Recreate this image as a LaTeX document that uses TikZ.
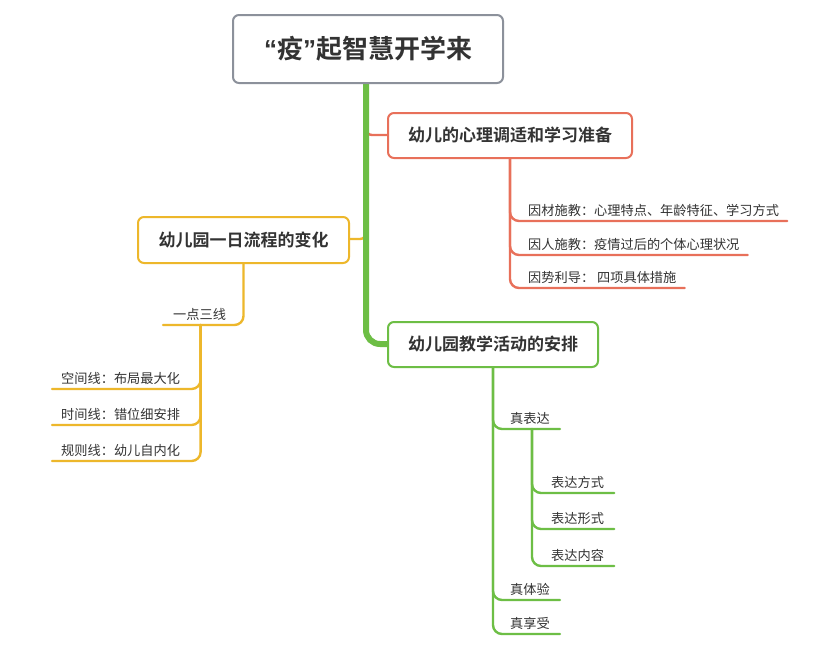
\documentclass[tikz,border=0pt]{standalone}
\usepackage{fontspec}
\setmainfont{Noto Sans CJK SC}[BoldFont={Noto Sans CJK SC Bold}]
\newfontfamily\latinq{Liberation Sans}
\definecolor{cred}{HTML}{E8705A}
\definecolor{cyel}{HTML}{EDB72B}
\definecolor{cgrn}{HTML}{6DBE45}
\definecolor{cgray}{HTML}{8C919B}
\definecolor{ctext}{HTML}{333333}
\begin{document}
\begin{tikzpicture}[x=1pt,y=-1pt,
  box/.style={draw, line width=2pt, rounded corners=6pt, fill=white, text=ctext, font=\bfseries\fontsize{17}{20}\selectfont, inner sep=0pt},
  leaf/.style={text=ctext, font=\fontsize{13.2}{15}\selectfont, inner xsep=0pt, inner ysep=4.5pt, anchor=south west},
  br/.style={line width=2.4pt, rounded corners=9pt, line cap=round}
]
\useasboundingbox[fill=white] (0,0) rectangle (828,648);

% connectors from root
\coordinate (tk) at (366,83);
\draw[br, cred, rounded corners=6pt] (tk) |- (388,135);
\draw[br, cyel, rounded corners=6pt] (tk) |- (349,239);
\draw[line width=6pt, cgrn, rounded corners=14pt] (tk) |- (388,344);

% boxes
\node[box, draw=cgray, minimum width=270pt, minimum height=68pt, font=\bfseries\fontsize{26}{30}\selectfont] (root) at (368,49) {{\latinq\bfseries “}疫{\latinq\bfseries ”}起智慧开学来};
\node[box, draw=cred, minimum width=244pt, minimum height=45pt] (red) at (510,135.5) {幼儿的心理调适和学习准备};
\node[box, draw=cyel, minimum width=211pt, minimum height=46pt] (yel) at (243.5,240) {幼儿园一日流程的变化};
\node[box, draw=cgrn, minimum width=210pt, minimum height=45pt] (grn) at (493,344.5) {幼儿园教学活动的安排};

% red leaves
\node[leaf] (r1) at (528,221) {因材施教：心理特点、年龄特征、学习方式};
\node[leaf] (r2) at (528,255) {因人施教：疫情过后的个体心理状况};
\node[leaf] (r3) at (528,288) {因势利导： 四项具体措施};
\foreach \n in {r1,r2,r3}
  \draw[br, cred] (red.south) |- ([xshift=8pt]\n.south east);

% yellow leaves
\node[leaf] (y0) at (173,325) {一点三线};
\draw[br, cyel] (yel.south) |- ([xshift=-10pt]y0.south west);
\node[leaf] (y1) at (61,389) {空间线：布局最大化};
\node[leaf] (y2) at (61,425) {时间线：错位细安排};
\node[leaf] (y3) at (61,461) {规则线：幼儿自内化};
\foreach \n in {y1,y2,y3}
  \draw[br, cyel] ([xshift=1pt]y0.south) |- ([xshift=-9pt]\n.south west);

% green leaves
\node[leaf] (g1) at (510,429) {真表达};
\node[leaf] (g2) at (510,600) {真体验};
\node[leaf] (g3) at (510,634) {真享受};
\foreach \n in {g1,g2,g3}
  \draw[br, cgrn] (grn.south) |- ([xshift=10pt]\n.south east);
\node[leaf] (h1) at (551,493) {表达方式};
\node[leaf] (h2) at (551,529) {表达形式};
\node[leaf] (h3) at (551,566) {表达内容};
\foreach \n in {h1,h2,h3}
  \draw[br, cgrn] ([xshift=2pt]g1.south) |- ([xshift=10pt]\n.south east);
\end{tikzpicture}
\end{document}
